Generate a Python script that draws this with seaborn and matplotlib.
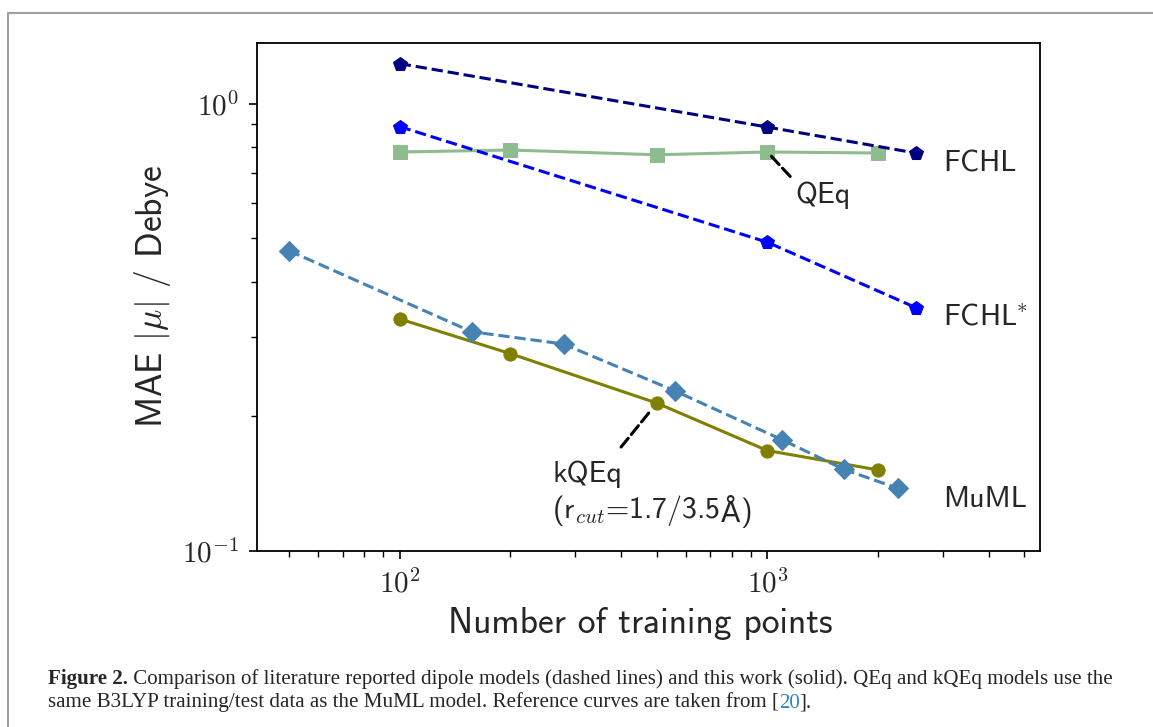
import matplotlib
matplotlib.use("Agg")
import matplotlib.pyplot as plt
from matplotlib.lines import Line2D
from matplotlib.ticker import FuncFormatter, NullFormatter
import numpy as np
import seaborn as sns

# values (MAE in Debye vs. number of training points)
fchl_n = [100, 1000, 2530]
fchl_mae = [1.23, 0.887, 0.776]
fchl_star_n = [100, 1000, 2530]
fchl_star_mae = [0.889, 0.490, 0.350]
qeq_n = [100, 200, 500, 1000, 2000]
qeq_mae = [0.780, 0.788, 0.769, 0.780, 0.776]
muml_n = [50, 157, 279, 559, 1098, 1616, 2259]
muml_mae = [0.469, 0.309, 0.290, 0.228, 0.177, 0.152, 0.138]
kqeq_n = [100, 200, 500, 1000, 2000]
kqeq_mae = [0.330, 0.276, 0.214, 0.1675, 0.1516]

sns.set_style("ticks")
plt.rcParams['font.family'] = ['cmss10', 'DejaVu Sans']
plt.rcParams['mathtext.fontset'] = 'cm'
plt.rcParams['axes.unicode_minus'] = False

fig = plt.figure(figsize=(11.53, 7.27), dpi=100)
ax = fig.add_axes([0.2232, 0.2425, 0.6792, 0.6988])
ax.set_xscale('log')
ax.set_yscale('log')

# solid = this work, dashed = literature
sns.lineplot(x=kqeq_n, y=kqeq_mae, ax=ax, color='olive', marker='o', markersize=9.5,
             markeredgecolor='olive', linewidth=2.2)
sns.lineplot(x=qeq_n, y=qeq_mae, ax=ax, color='darkseagreen', marker='s', markersize=10,
             markeredgecolor='darkseagreen', linewidth=2.2)
sns.lineplot(x=muml_n, y=muml_mae, ax=ax, color='steelblue', marker='D', markersize=10,
             markeredgecolor='steelblue', linewidth=2.2, linestyle='--')
sns.lineplot(x=fchl_star_n, y=fchl_star_mae, ax=ax, color='blue', marker='p', markersize=10.5,
             markeredgecolor='blue', linewidth=2.2, linestyle='--')
sns.lineplot(x=fchl_n, y=fchl_mae, ax=ax, color='navy', marker='p', markersize=10.5,
             markeredgecolor='navy', linewidth=2.2, linestyle='--')

ax.set_xlim(41, 5530)
ax.set_ylim(0.1, 1.37)

fmt = FuncFormatter(lambda v, p: r"$\mathrm{10^{%d}}$" % int(round(np.log10(v))))
ax.xaxis.set_major_formatter(fmt)
ax.yaxis.set_major_formatter(fmt)
ax.xaxis.set_minor_formatter(NullFormatter())
ax.yaxis.set_minor_formatter(NullFormatter())
ax.tick_params(which='major', labelsize=21, length=6, width=1.2, pad=7, color='k')
ax.tick_params(which='minor', length=4, width=1.0, color='k')
for s in ax.spines.values():
    s.set_linewidth(1.3)
    s.set_color('k')

ax.set_xlabel('Number of training points', fontsize=25.6, labelpad=6)
ax.xaxis.label.set_x(0.489)
ax.set_ylabel(r'MAE $|\mu|$ / Debye', fontsize=25.6, labelpad=7)

ax.text(3000, 0.7054, 'FCHL', fontsize=21.5, va='baseline')
ax.text(3000, 0.320, r'FCHL$\!^*$', fontsize=21.5, va='baseline')
ax.text(3000, 0.1251, 'MuML', fontsize=21.5, va='baseline')

ax.annotate('QEq', xy=(1000, 0.780), xytext=(1190, 0.599), fontsize=21.5,
            ha='left', va='baseline',
            arrowprops=dict(arrowstyle='-', linestyle='--', color='k', lw=2.2,
                            relpos=(0, 1), shrinkA=2, shrinkB=3))

# kQEq label: the angstrom sign is taken from DejaVu Sans (cmss10 lacks it)
kq = ax.text(260, 0.1182, 'kQEq\n(r$_{cut}$=1.7/3.5', fontsize=21.5, ha='left', va='baseline')
aa = ax.annotate('Å', xy=(1, 0), xycoords=kq, va='bottom', family='DejaVu Sans',
                 fontsize=20.5, annotation_clip=False)
ax.annotate(')', xy=(1, 0), xycoords=aa, va='bottom', fontsize=21.5, annotation_clip=False)
ax.annotate('', xy=(500, 0.2138), xytext=(400, 0.1706),
            arrowprops=dict(arrowstyle='-', linestyle='--', color='k', lw=2.2,
                            shrinkA=0, shrinkB=7))

# page frame lines around the figure
fig.add_artist(Line2D([8 / 1153, 1], [1 - 13 / 727, 1 - 13 / 727], color='#a0a0a0', lw=1.5))
fig.add_artist(Line2D([8 / 1153, 8 / 1153], [0, 1 - 13 / 727], color='#a0a0a0', lw=1.5))

# caption
cap_size = 15.1
cap_font = dict(family='Liberation Serif', fontsize=cap_size, va='baseline')
t1 = fig.text(48 / 1153, 1 - 684.3 / 727, 'Figure 2.', fontweight='bold', **cap_font)
ax.annotate(' Comparison of literature reported dipole models (dashed lines) and this work (solid). '
            'QEq and kQEq models use the', xy=(1, 0), xycoords=t1, va='bottom',
            family='Liberation Serif', fontsize=cap_size, annotation_clip=False)
t2 = fig.text(48 / 1153, 1 - 707.5 / 727,
              'same B3LYP training/test data as the MuML model. Reference curves are taken from [',
              **cap_font)
t3 = ax.annotate('20', xy=(1, 0), xycoords=t2, va='bottom', color='#2e86c1',
                 family='Liberation Serif', fontsize=cap_size, annotation_clip=False)
ax.annotate('].', xy=(1, 0), xycoords=t3, va='bottom',
            family='Liberation Serif', fontsize=cap_size, annotation_clip=False)

fig.savefig('out.png', dpi=100)
